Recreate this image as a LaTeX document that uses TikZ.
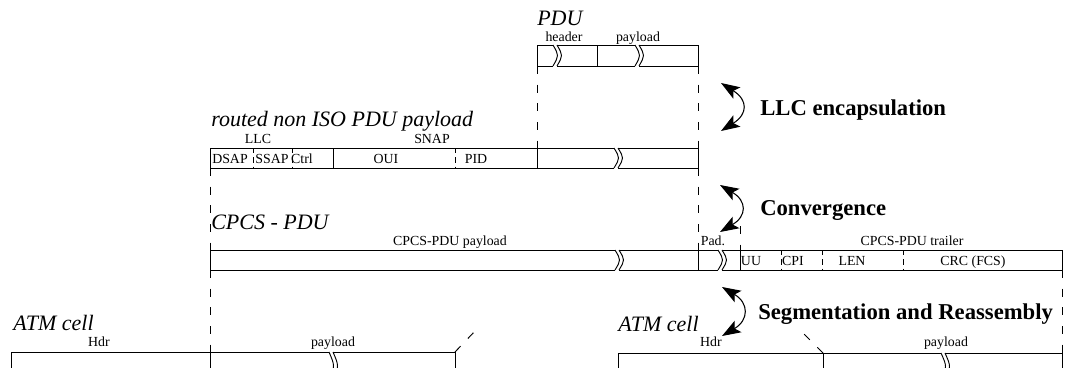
\documentclass[tikz,border=0pt]{standalone}
\usepackage{fontspec}
\setmainfont{Liberation Serif}
\usetikzlibrary{arrows.meta}
\tikzset{
  frame/.style={line width=0.7pt},
  cut/.style={line width=0.7pt, dash pattern=on 6pt off 8pt},
  sub/.style={line width=0.6pt, dash pattern=on 4pt off 3pt},
  lbl/.style={font=\fontsize{10.4}{12}\selectfont, inner sep=0pt},
  title/.style={font=\fontsize{16.5}{18}\selectfont\itshape, inner sep=0pt},
  layer/.style={font=\fontsize{17}{19}\selectfont\bfseries, inner sep=0pt},
  swap/.style={line width=0.8pt, >={Stealth[length=14pt,width=10pt,inset=3pt]}, <->}
}
% break mark: x, top, bottom
\newcommand{\cutmark}[3]{%
  \fill[white] ({#1-2},{#2-1}) rectangle ({#1+2},{#3+1});
  \draw[frame] ({#1-2},#2) .. controls ({#1+4},{(#2+#3)/2}) .. ({#1-2},#3)
               ({#1+2},#2) .. controls ({#1+8},{(#2+#3)/2}) .. ({#1+2},#3);}

\begin{document}
\begin{tikzpicture}[x=0.75pt,y=-0.75pt]
\useasboundingbox (0,0) rectangle (1065,368);
\clip (0,0) rectangle (1065,368);
% PDU
\node[title, anchor=base west] (pdu) at (537,25) {PDU};
\node[lbl, anchor=base] (pduhdr) at (564,41) {header};
\node[lbl, anchor=base] (pdupay) at (638,41) {payload};
\draw[frame] (537,45) rectangle (698,66) (597,45) -- (597,66);
\cutmark{555}{45}{66}
\cutmark{637}{45}{66}
\draw[cut] (537,66) -- (537,148) (698,66) -- (698,148);
% LLC / SNAP
\node[title, anchor=base west] (routed) at (211,126) {routed non ISO PDU payload};
\node[lbl, anchor=base] (llc) at (258,143) {LLC};
\node[lbl, anchor=base] (snap) at (432,143) {SNAP};
\draw[frame] (210,148) rectangle (698,168)
  (333,148) -- (333,168) (537,148) -- (537,168);
\draw[sub] (253,148) -- (253,168) (292,148) -- (292,168) (455,148) -- (455,168);
\node[lbl, anchor=base] (dsap) at (230,163) {DSAP};
\node[lbl, anchor=base] (ssap) at (272,163) {SSAP};
\node[lbl, anchor=base] (ctrl) at (302,163) {Ctrl};
\node[lbl, anchor=base] (oui) at (386,163) {OUI};
\node[lbl, anchor=base] (pid) at (476,163) {PID};
\cutmark{616}{148}{168}
\draw[cut] (210,168) -- (210,250) (698,168) -- (698,250) (740,226) -- (740,250);
% CPCS - PDU
\node[title, anchor=base west] (cpcs) at (211,229) {CPCS - PDU};
\node[lbl, anchor=base] (cpay) at (450,245) {CPCS-PDU payload};
\node[lbl, anchor=base] (pad) at (713,245) {Pad.};
\node[lbl, anchor=base] (trail) at (912,245) {CPCS-PDU trailer};
\draw[frame] (210,250) rectangle (1062,270)
  (698,250) -- (698,270) (740,250) -- (740,270);
\draw[sub] (781,250) -- (781,270) (822,250) -- (822,270) (903,250) -- (903,270);
\node[lbl, anchor=base] (uu) at (751,265) {UU};
\node[lbl, anchor=base] (cpi) at (793,265) {CPI};
\node[lbl, anchor=base] (len) at (852,265) {LEN};
\node[lbl, anchor=base] (crc) at (973,265) {CRC (FCS)};
\cutmark{617}{250}{270}
\cutmark{720}{250}{270}
\draw[cut] (210,270) -- (210,352) (1062,270) -- (1062,353);
% ATM cells
\node[title, anchor=base west] (cell1) at (13,330) {ATM cell};
\node[lbl, anchor=base] (hdr1) at (99,346) {Hdr};
\node[lbl, anchor=base] (pay1) at (333,346) {payload};
\draw[frame] (11,380) -- (11,352) -- (455,352) -- (455,380) (210,352) -- (210,380);
\cutmark{331}{352}{380}
\draw[cut] (455,352) -- (476,330);
\node[title, anchor=base west] (cell2) at (618,331) {ATM cell};
\node[lbl, anchor=base] (hdr2) at (711,346) {Hdr};
\node[lbl, anchor=base] (pay2) at (946,346) {payload};
\draw[frame] (618,380) -- (618,353) -- (1062,353) -- (1062,380) (823,353) -- (823,380);
\cutmark{943}{353}{380}
\draw[cut] (823,353) -- (802,332);
% layers
\coordinate (llcA) at (721,83);  \coordinate (llcB) at (721,131);
\coordinate (cnvA) at (720,185); \coordinate (cnvB) at (720,232);
\coordinate (sarA) at (722,287); \coordinate (sarB) at (722,336);
\draw[swap] (llcA) .. controls (748,100) and (748,114) .. (llcB);
\draw[swap] (cnvA) .. controls (747,201) and (747,216) .. (cnvB);
\draw[swap] (sarA) .. controls (749,303) and (749,320) .. (sarB);
\node[layer, anchor=base west] (enc) at (760,115) {LLC encapsulation};
\node[layer, anchor=base west] (conv) at (760,215) {Convergence};
\node[layer, anchor=base west] (sar) at (758,319) {Segmentation and Reassembly};
\end{tikzpicture}
\end{document}
